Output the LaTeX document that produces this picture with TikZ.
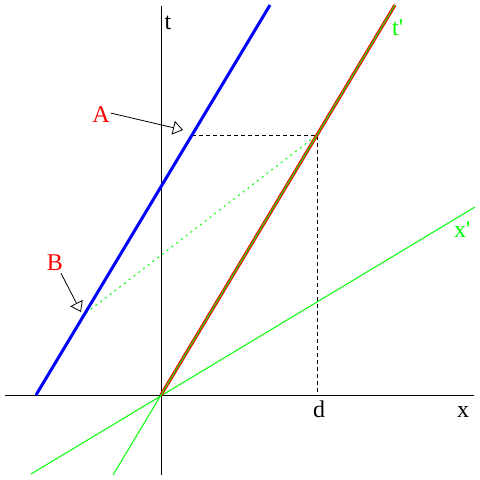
\documentclass[tikz,border=0pt]{standalone}
\usepackage{fontspec}
\setmainfont{Liberation Serif}
\usetikzlibrary{arrows.meta}
\definecolor{pblue}{RGB}{0,0,255}
\definecolor{pred}{RGB}{255,0,0}
\definecolor{pgreen}{RGB}{0,255,0}
\tikzset{
  axis/.style={black,line width=1pt},
  world/.style={pblue,line width=3pt},
  redworld/.style={pred,line width=3.2pt},
  greenline/.style={pgreen,line width=1pt},
  helper/.style={black,line width=0.8pt,dash pattern=on 4pt off 3pt},
  greendot/.style={pgreen,line width=1pt,dash pattern=on 2pt off 4pt},
  pointer/.style={black,line width=0.8pt,-{Triangle[open,length=10pt,width=14pt]}},
  lbl/.style={inner sep=0pt,font=\fontsize{24}{28}\selectfont},
}
\begin{document}
\begin{tikzpicture}[x=1pt,y=-1pt]
\useasboundingbox (0,0) rectangle (480,480);
% coordinates
\coordinate (xl) at (5,395);
\coordinate (xr) at (474,395);
\coordinate (tb) at (161,475);
\coordinate (tt) at (161,6);
\coordinate (O) at (161,395);
\coordinate (b0) at (36,395);
\coordinate (b1) at (270,5);
\coordinate (r1) at (395,5);
\coordinate (g0) at (113,475);
\coordinate (xp0) at (31,474);
\coordinate (xp1) at (475,207);
\coordinate (P) at (317,135);
\coordinate (Pd) at (317,395);
\coordinate (Ab) at (192,135);
\coordinate (Bp) at (86,313);
\coordinate (Atip) at (183,130);
\coordinate (Btip) at (81,312);
% axes
\draw[axis] (xl) -- (xr);
\draw[axis] (tb) -- (tt);
% helper lines
\draw[helper] (Ab) -- (P) -- (Pd);
\draw[greendot] (Bp) -- (P);
% x' axis
\draw[greenline] (xp0) -- (xp1);
% world lines
\draw[world] (b0) -- (b1);
\draw[redworld] (O) -- (r1);
\draw[greenline] (g0) -- (r1);
% labels
\node[lbl,anchor=base] (tlab) at (168,29) {t};
\node[lbl,anchor=base] (xlab) at (463,417) {x};
\node[lbl,anchor=base] (dlab) at (319,417) {d};
\node[lbl,anchor=base west,pgreen] (tplab) at (392,35) {t\textquotesingle};
\node[lbl,anchor=base west,pgreen] (xplab) at (454,237) {x\textquotesingle};
\node[lbl,anchor=base,pred] (Alab) at (101,122) {A};
\node[lbl,anchor=base,pred] (Blab) at (55,270) {B};
% pointers
\draw[pointer] (Alab.east) ++(1,-1) -- (Atip);
\draw[pointer] (Blab.south) ++(6,3) -- (Btip);
\end{tikzpicture}
\end{document}
